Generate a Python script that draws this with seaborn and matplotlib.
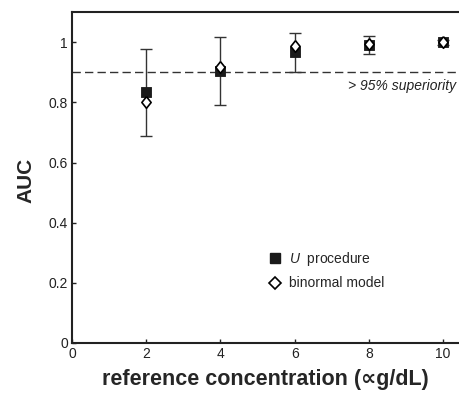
import numpy as np
import pandas as pd
import matplotlib
matplotlib.use("Agg")
import matplotlib.pyplot as plt
from matplotlib.lines import Line2D
import seaborn as sns

# data
conc = [2, 4, 6, 8, 10]
auc_u = [0.833, 0.903, 0.966, 0.992, 1.0]
auc_binormal = [0.80, 0.917, 0.987, 0.995, 1.0]
err_low = [0.687, 0.79, 0.90, 0.962, 0.99]
err_high = [0.979, 1.016, 1.03, 1.022, 1.006]
series_names = ["U procedure", "binormal model"]
xticks = [0, 2, 4, 6, 8, 10]
yticks = [0, 0.2, 0.4, 0.6, 0.8, 1]
ytick_labels = ["0", "0.2", "0.4", "0.6", "0.8", "1"]

sns.set_style("ticks")
plt.rcParams["font.family"] = ["Liberation Sans", "DejaVu Sans"]
plt.rcParams["mathtext.fontset"] = "custom"
plt.rcParams["mathtext.it"] = "Liberation Sans:italic"
plt.rcParams["mathtext.rm"] = "Liberation Sans"

fig = plt.figure(figsize=(4.59, 4.04), dpi=100)
ax = fig.add_axes([0.157, 0.151, 0.843, 0.819])

df = pd.DataFrame({
    "conc": conc * 2,
    "auc": auc_u + auc_binormal,
    "series": [series_names[0]] * len(conc) + [series_names[1]] * len(conc),
})

# error bars around U procedure
yerr = np.array([np.array(auc_u) - np.array(err_low), np.array(err_high) - np.array(auc_u)])
ax.errorbar(conc, auc_u, yerr=yerr, fmt="none", ecolor="#333333", elinewidth=1.0,
            capsize=4, capthick=1.0, zorder=1)

diamond = [(0, 1), (0.8, 0), (0, -1), (-0.8, 0), (0, 1)]
sns.scatterplot(data=df[df.series == series_names[0]], x="conc", y="auc", marker="s",
                color="#1a1a1a", edgecolor="#1a1a1a", s=60, ax=ax, zorder=3, legend=False)
sns.scatterplot(data=df[df.series == series_names[1]], x="conc", y="auc", marker=diamond,
                color="white", edgecolor="black", linewidth=1.2, s=70, ax=ax, zorder=4,
                legend=False)

ax.axhline(0.9, color="#333333", lw=1.0, ls=(0, (6, 3)), zorder=0)
ax.text(10.35, 0.855, "> 95% superiority", ha="right", va="center", style="italic",
        fontsize=10, color="#222222")

ax.set_xlim(0, 10.43)
ax.set_ylim(0, 1.1)
ax.set_xticks(xticks)
ax.set_xticklabels([str(t) for t in xticks])
ax.set_yticks(yticks)
ax.set_yticklabels(ytick_labels)
ax.tick_params(direction="in", length=3, width=1, labelsize=10, colors="#222222", pad=3)
ax.set_xlabel("reference concentration (∝g/dL)", fontsize=15.5, fontweight="bold", labelpad=6,
              family=["Liberation Sans", "DejaVu Sans"])
ax.set_ylabel("AUC", fontsize=15, fontweight="bold", labelpad=6)
ax.yaxis.set_label_coords(-0.095, 0.49)
for s in ["left", "bottom", "top"]:
    ax.spines[s].set_linewidth(1.5)
    ax.spines[s].set_color("#222222")
ax.spines["right"].set_visible(False)

handles = [
    Line2D([], [], marker="s", color="#1a1a1a", ls="none", markersize=7.5),
    Line2D([], [], marker="D", markerfacecolor="white", markeredgecolor="black",
           markeredgewidth=1.2, ls="none", markersize=6.5),
]
ax.legend(handles, [r"$\it{U}$  procedure", "binormal model"], loc="center left",
          bbox_to_anchor=(0.47, 0.22), frameon=False, fontsize=10, handletextpad=0.4,
          labelspacing=0.6, handlelength=1.2)

fig.savefig("out.png", dpi=100)
